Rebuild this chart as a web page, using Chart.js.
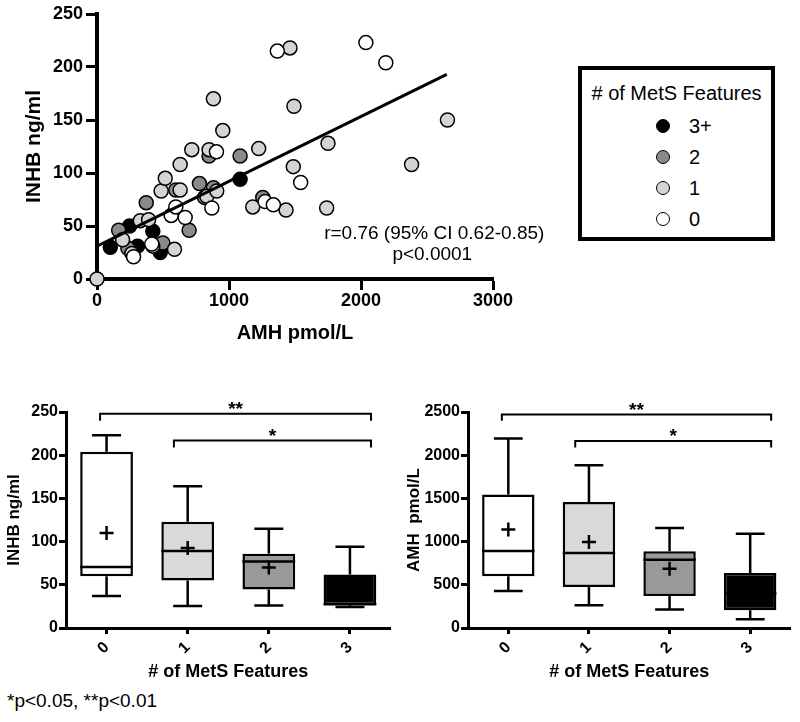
<!DOCTYPE html>
<html>
<head>
<meta charset="utf-8">
<title>INHB vs AMH by MetS features</title>
<script src="https://cdn.jsdelivr.net/npm/chart.js@4.4.0/dist/chart.umd.min.js"></script>
<style>
  body { margin: 0; width: 800px; height: 722px; background: #fff; position: relative; overflow: hidden;
         font-family: 'Liberation Sans', Arial, sans-serif; color: #000; }
  .box { position: absolute; }
  #legend { position: absolute; left: 578px; top: 66px; width: 197px; height: 175px; box-sizing: border-box;
            border: 4px solid #000; }
  #legend .title { position: absolute; left: 0; right: 0; top: 12px; text-align: center; font-size: 20px; }
  #legend .item { position: absolute; left: 0; height: 24px; font-size: 20px; line-height: 24px; }
  #legend .dot { position: absolute; width: 14px; height: 14px; border-radius: 50%; box-sizing: border-box;
                 border: 1.5px solid #000; top: 5px; }
  #note { position: absolute; left: 7px; top: 690px; font-size: 19px; }
</style>
</head>
<body>
<div class="box" style="left:0;top:0;width:565px;height:345px"><canvas id="scatter"></canvas></div>
<div id="legend"><div class="title"># of MetS Features</div></div>
<div class="box" style="left:0;top:370px;width:400px;height:320px"><canvas id="inhbBox"></canvas></div>
<div class="box" style="left:400px;top:370px;width:400px;height:320px"><canvas id="amhBox"></canvas></div>
<div id="note">*p&lt;0.05, **p&lt;0.01</div>

<script>
// scatter: AMH (x) vs INHB (y), grouped by number of MetS features
const amh0 = [277, 415, 562, 597, 668, 870, 905, 1273, 1336, 1366, 1543, 2037, 2188];
const inhb0 = [21, 33, 60, 68, 58, 67, 120, 73, 70, 215, 91, 223, 204];
const amh1 = [0, 194, 264, 328, 391, 423, 486, 517, 587, 630, 630, 718, 832, 849, 882, 907, 953, 1180, 1225, 1432, 1462, 1487, 1492, 1740, 1750, 2383, 2655];
const inhb1 = [0, 37, 24, 55, 56, 31, 83, 95, 28, 108, 84, 122, 78, 122, 170, 83, 140, 68, 123, 65, 218, 106, 163, 67, 128, 108, 150];
const amh2 = [164, 234, 373, 499, 597, 698, 776, 814, 882, 849, 1084, 1256];
const inhb2 = [46, 29, 72, 34, 84, 46, 90, 77, 86, 116, 116, 77];
const amh3 = [101, 247, 307, 423, 479, 1084];
const inhb3 = [30, 50, 31, 45, 25, 94];
const fitAmh = [0, 2650];
const fitInhb = [31, 193];
const statLines = ['r=0.76 (95% CI 0.62-0.85)', 'p<0.0001'];

const groupNames = ['0', '1', '2', '3+'];
const groupColors = ['#ffffff', '#d4d4d4', '#8a8a8a', '#000000'];

// box plots by MetS feature count
const categories = ['0', '1', '2', '3'];
const inhbMin = [37, 25.5, 26, 24.3];
const inhbQ1 = [60, 55, 44.5, 26.5];
const inhbMed = [70.5, 89, 77, 27.5];
const inhbQ3 = [204, 123, 86, 62];
const inhbMax = [223, 164, 115, 94];
const inhbMean = [110, 92.5, 70, 45];
const amhMin = [428, 263, 213, 100];
const amhQ1 = [598, 475, 370, 205];
const amhMed = [891, 868, 791, 400];
const amhQ3 = [1544, 1459, 888, 637];
const amhMax = [2192, 1883, 1157, 1092];
const amhMean = [1139, 995, 687, 450];
const boxColors = ['#ffffff', '#d9d9d9', '#999999', '#000000'];
const inhbBrackets = [
  { from: -0.08, to: 3.26, y: 248, tip: 240, label: '**' },
  { from: 0.83, to: 3.26, y: 217, tip: 209, label: '*' }
];
const amhBrackets = [
  { from: -0.08, to: 3.26, y: 2470, tip: 2400, label: '**' },
  { from: 0.83, to: 3.26, y: 2164, tip: 2088, label: '*' }
];

const FONT = "'Liberation Sans', Arial, sans-serif";
Chart.defaults.font.family = FONT;
Chart.defaults.color = '#000';
const plainNumber = v => String(v);

// legend (drawn as html, from the group arrays)
const legend = document.getElementById('legend');
[3, 2, 1, 0].forEach((g, k) => {
  const item = document.createElement('div');
  item.className = 'item';
  item.style.top = (44 + k * 31) + 'px';
  item.innerHTML = `<span class="dot" style="left:74px;background:${groupColors[g]}"></span>` +
                   `<span style="position:absolute;left:107px">${groupNames[g]}</span>`;
  legend.appendChild(item);
});

const statPlugin = {
  id: 'stats',
  afterDraw(chart) {
    const { ctx, scales: { x, y } } = chart;
    ctx.save();
    ctx.font = '19px ' + FONT;
    ctx.fillStyle = '#000';
    ctx.textAlign = 'center';
    ctx.textBaseline = 'middle';
    ctx.fillText(statLines[0], x.getPixelForValue(2555), y.getPixelForValue(43));
    ctx.fillText(statLines[1], x.getPixelForValue(2540), y.getPixelForValue(23));
    ctx.restore();
  }
};

const scatterSets = [0, 1, 2, 3].map(g => ({
  type: 'scatter',
  label: groupNames[g],
  data: [amh0, amh1, amh2, amh3][g].map((v, i) => ({ x: v, y: [inhb0, inhb1, inhb2, inhb3][g][i] })),
  backgroundColor: groupColors[g],
  borderColor: '#000',
  borderWidth: 1.5,
  pointRadius: 7,
  clip: false
}));

new Chart(document.getElementById('scatter'), {
  type: 'scatter',
  data: {
    datasets: [{
      type: 'line',
      label: 'fit',
      data: fitAmh.map((v, i) => ({ x: v, y: fitInhb[i] })),
      borderColor: '#000',
      borderWidth: 3,
      pointRadius: 0,
      fill: false
    }, ...scatterSets]
  },
  options: {
    responsive: true,
    maintainAspectRatio: false,
    animation: false,
    layout: { padding: { top: 14, right: 72, left: 0, bottom: 0 } },
    plugins: { legend: { display: false }, tooltip: { enabled: false } },
    scales: {
      x: {
        type: 'linear', min: 0, max: 3000,
        ticks: { stepSize: 1000, padding: 0, font: { size: 18, weight: 'bold' }, callback: plainNumber },
        grid: { drawOnChartArea: false, tickLength: 11, tickWidth: 3, tickColor: '#000' },
        border: { color: '#000', width: 4 },
        title: { display: true, text: 'AMH pmol/L', font: { size: 20, weight: 'bold' }, padding: { top: 0, bottom: 0 } },
        afterFit: s => { s.height = 66; }
      },
      y: {
        min: 0, max: 250,
        ticks: { stepSize: 50, padding: 3, font: { size: 18, weight: 'bold' }, callback: plainNumber },
        grid: { drawOnChartArea: false, tickLength: 11, tickWidth: 3, tickColor: '#000' },
        border: { color: '#000', width: 4 },
        title: { display: true, text: 'INHB ng/ml', font: { size: 21, weight: 'bold' }, padding: { top: 22, bottom: 0 } },
        afterFit: s => { s.width = 97; }
      }
    }
  },
  plugins: [statPlugin]
});

function boxPlugin(mins, maxs, meds, q1s, q3s, brackets) {
  return {
    id: 'boxParts',
    beforeDatasetsDraw(chart) {
      const { ctx, scales: { y } } = chart;
      const bars = chart.getDatasetMeta(0).data;
      ctx.save();
      ctx.strokeStyle = '#000';
      ctx.lineWidth = 2.5;
      bars.forEach((bar, i) => {
        const half = bar.width * 0.275;
        [[q1s[i], mins[i]], [q3s[i], maxs[i]]].forEach(([from, to]) => {
          const y0 = y.getPixelForValue(from), y1 = y.getPixelForValue(to);
          ctx.beginPath();
          ctx.moveTo(bar.x, y0); ctx.lineTo(bar.x, y1);
          ctx.moveTo(bar.x - half, y1); ctx.lineTo(bar.x + half, y1);
          ctx.stroke();
        });
      });
      ctx.restore();
    },
    afterDatasetDraw(chart, args) {
      if (args.index !== 0) return;
      const { ctx, scales: { y } } = chart;
      ctx.save();
      ctx.strokeStyle = '#000';
      ctx.lineWidth = 2.5;
      chart.getDatasetMeta(0).data.forEach((bar, i) => {
        const py = y.getPixelForValue(meds[i]);
        ctx.beginPath();
        ctx.moveTo(bar.x - bar.width / 2, py); ctx.lineTo(bar.x + bar.width / 2, py);
        ctx.stroke();
      });
      ctx.restore();
    },
    afterDraw(chart) {
      const { ctx, scales: { x, y } } = chart;
      ctx.save();
      ctx.strokeStyle = '#000';
      ctx.fillStyle = '#000';
      ctx.lineWidth = 2;
      ctx.font = 'bold 19px ' + FONT;
      ctx.textAlign = 'center';
      ctx.textBaseline = 'alphabetic';
      brackets.forEach(b => {
        const x0 = x.getPixelForValue(b.from), x1 = x.getPixelForValue(b.to);
        const py = y.getPixelForValue(b.y), tip = y.getPixelForValue(b.tip);
        ctx.beginPath();
        ctx.moveTo(x0, tip); ctx.lineTo(x0, py); ctx.lineTo(x1, py); ctx.lineTo(x1, tip);
        ctx.stroke();
        ctx.fillText(b.label, (x0 + x1) / 2, py + 1);
      });
      ctx.restore();
    }
  };
}

function makeBox(id, q1s, q3s, mins, maxs, meds, means, brackets, yMax, yStep, yTitle, yWidth) {
  new Chart(document.getElementById(id), {
    data: {
      labels: categories,
      datasets: [{
        type: 'bar',
        order: 1,
        data: categories.map((c, i) => [q1s[i], q3s[i]]),
        backgroundColor: boxColors,
        borderColor: '#000',
        borderWidth: 2.5,
        borderSkipped: false,
        barPercentage: 0.65,
        categoryPercentage: 1
      }, {
        type: 'line',
        order: 0,
        data: means,
        showLine: false,
        pointStyle: 'cross',
        pointRadius: 7,
        pointBorderWidth: 2.5,
        pointBorderColor: '#000',
        borderColor: '#000'
      }]
    },
    options: {
      responsive: true,
      maintainAspectRatio: false,
      animation: false,
      layout: { padding: { top: 42, right: 9, left: 0, bottom: 0 } },
      plugins: { legend: { display: false }, tooltip: { enabled: false } },
      scales: {
        x: {
          type: 'category',
          offset: true,
          ticks: { minRotation: 45, maxRotation: 45, padding: 4, font: { size: 16, weight: 'bold' } },
          grid: { offset: false, drawOnChartArea: false, tickLength: 6, tickWidth: 3, tickColor: '#000' },
          border: { color: '#000', width: 3 },
          title: { display: true, text: '# of MetS Features', font: { size: 18, weight: 'bold' }, padding: { top: 0, bottom: 7 } },
          afterFit: s => { s.height = 62; }
        },
        y: {
          min: 0, max: yMax,
          ticks: { stepSize: yStep, padding: 1, font: { size: 16, weight: 'bold' }, callback: plainNumber },
          grid: { drawOnChartArea: false, tickLength: 7, tickWidth: 3, tickColor: '#000' },
          border: { color: '#000', width: 3 },
          title: { display: true, text: yTitle, font: { size: 17, weight: 'bold' }, padding: { top: 4, bottom: 0 } },
          afterFit: s => { s.width = yWidth; }
        }
      }
    },
    plugins: [boxPlugin(mins, maxs, meds, q1s, q3s, brackets)]
  });
}

makeBox('inhbBox', inhbQ1, inhbQ3, inhbMin, inhbMax, inhbMed, inhbMean, inhbBrackets, 250, 50, 'INHB ng/ml', 66);
makeBox('amhBox', amhQ1, amhQ3, amhMin, amhMax, amhMed, amhMean, amhBrackets, 2500, 500, 'AMH  pmol/L', 68);
</script>
</body>
</html>
